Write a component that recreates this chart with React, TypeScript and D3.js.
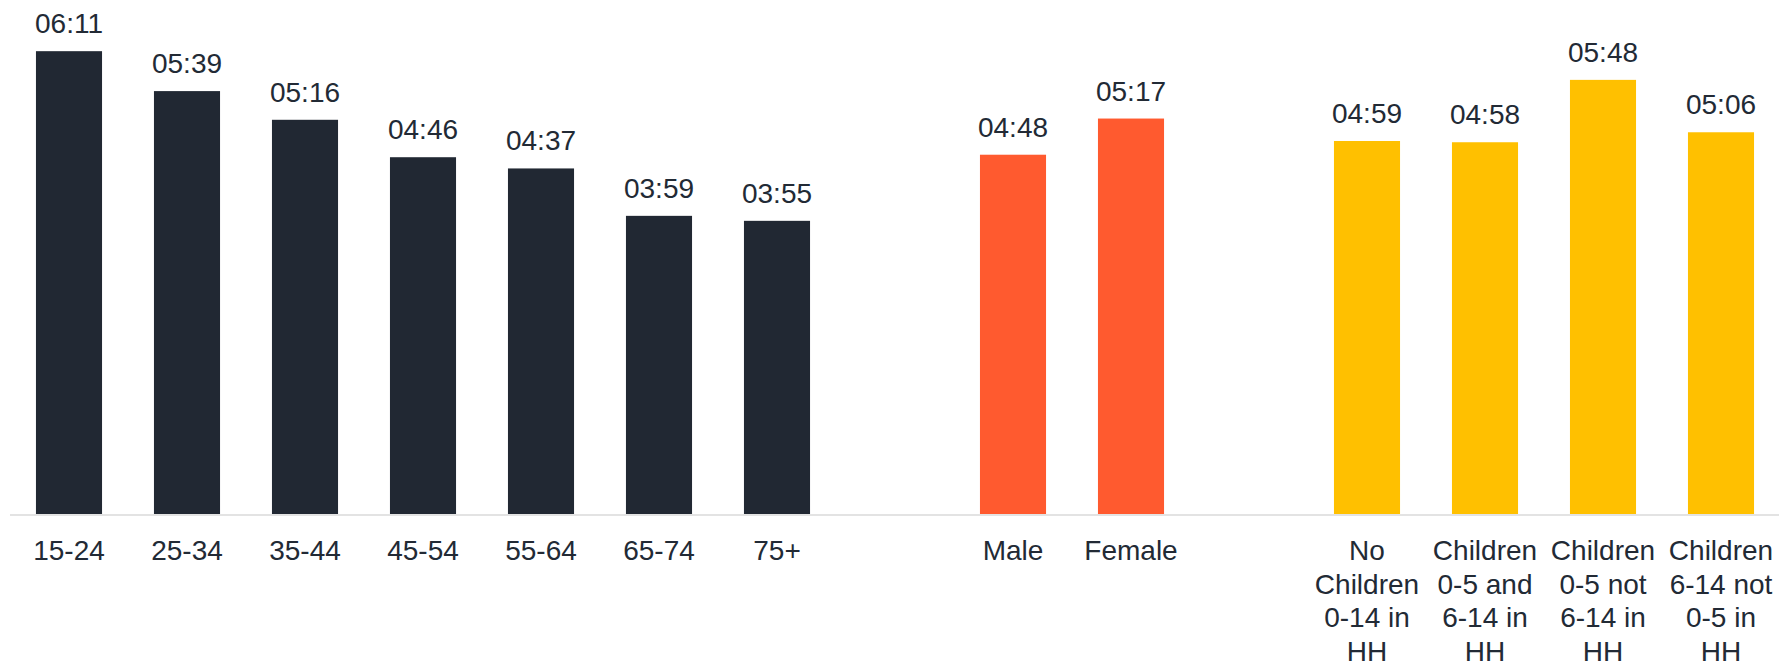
import React from "react";
import * as d3 from "d3";

const ageCategories = ["15-24", "25-34", "35-44", "45-54", "55-64", "65-74", "75+"];
const ageValues = ["06:11", "05:39", "05:16", "04:46", "04:37", "03:59", "03:55"];

const genderCategories = ["Male", "Female"];
const genderValues = ["04:48", "05:17"];

const childCategories = [
  "No Children 0-14 in HH",
  "Children 0-5 and 6-14 in HH",
  "Children 0-5 not 6-14 in HH",
  "Children 6-14 not 0-5 in HH",
];
const childLabelLines = [
  ["No", "Children", "0-14 in", "HH"],
  ["Children", "0-5 and", "6-14 in", "HH"],
  ["Children", "0-5 not", "6-14 in", "HH"],
  ["Children", "6-14 not", "0-5 in", "HH"],
];
const childValues = ["04:59", "04:58", "05:48", "05:06"];

const W = 1779;
const H = 663;
const baseY = 514;
const FONT = "'Liberation Sans', Arial, Helvetica, sans-serif";
const TEXT = "#222a35";

const toMin = (s: string) => {
  const [h, m] = s.split(":").map(Number);
  return h * 60 + m;
};

type Item = { key: string; lines: string[]; value: string; color: string };

const items: (Item | null)[] = [
  ...ageCategories.map((c, i) => ({ key: c, lines: [c], value: ageValues[i], color: "#212833" })),
  null,
  ...genderCategories.map((c, i) => ({ key: c, lines: [c], value: genderValues[i], color: "#ff5a2f" })),
  null,
  ...childCategories.map((c, i) => ({ key: c, lines: childLabelLines[i], value: childValues[i], color: "#ffc000" })),
];

const slots = items.map((_, i) => String(i));

export default function App() {
  const x = d3.scaleBand<string>().domain(slots).range([10, 1780]).paddingInner(0.44).paddingOuter(0.22);
  const y = d3.scaleLinear().domain([0, 400]).range([baseY, 15]);

  return (
    <svg width={W} height={H} style={{ position: "absolute", left: 0, top: 0, background: "#fff" }} fontFamily={FONT}>
      {items.map((it, i) => {
        if (!it) return null;
        const x0 = x(String(i))!;
        const bw = x.bandwidth();
        const v = toMin(it.value);
        const cx = x0 + bw / 2;
        return (
          <g key={it.key}>
            <rect x={x0} y={y(v)} width={bw} height={baseY - y(v)} fill={it.color} />
            <text x={cx} y={y(v) - 18} textAnchor="middle" fontSize={28} fill={TEXT}>
              {it.value}
            </text>
            <text x={cx} y={560} textAnchor="middle" fontSize={28} fill={TEXT}>
              {it.lines.map((l, j) => (
                <tspan key={j} x={cx} dy={j === 0 ? 0 : 33.5}>
                  {l}
                </tspan>
              ))}
            </text>
          </g>
        );
      })}
      <line x1={10} x2={W} y1={baseY + 1} y2={baseY + 1} stroke="#e3e3e3" strokeWidth={2} />
    </svg>
  );
}
